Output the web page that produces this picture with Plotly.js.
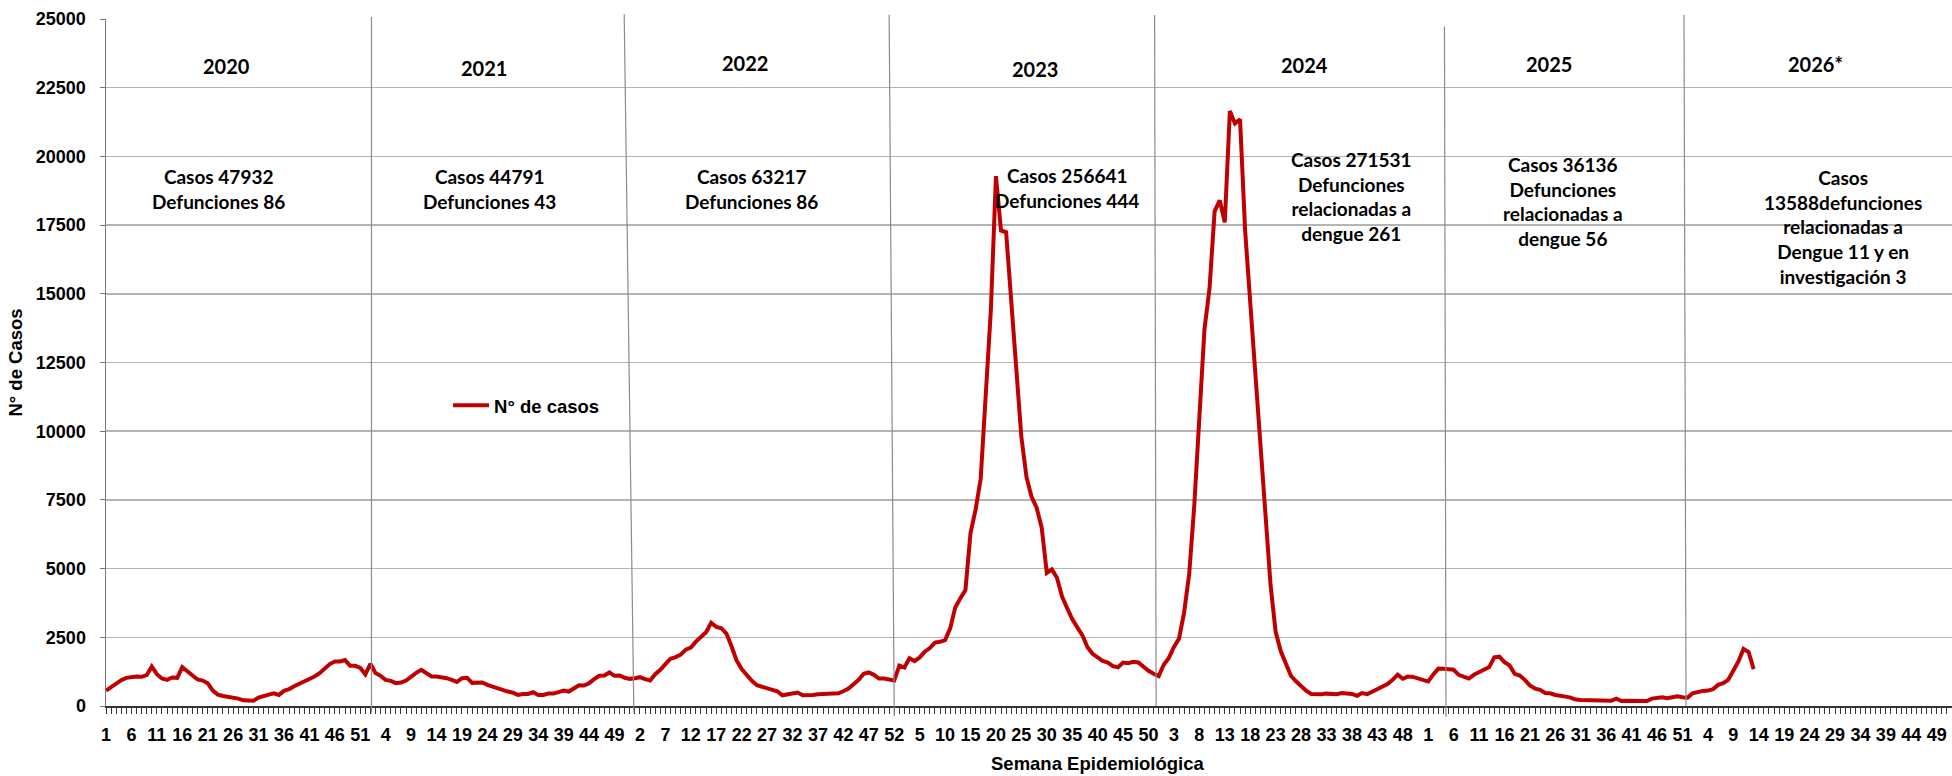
<!DOCTYPE html>
<html>
<head>
<meta charset="utf-8">
<script src="https://cdn.plot.ly/plotly-3.0.1.min.js"></script>
<style>
html, body { margin: 0; padding: 0; background: #ffffff; }
#chart { width: 1952px; height: 776px; }
</style>
</head>
<body>
<div id="chart"></div>
<script>
// ---- Data: weekly dengue cases (N° de casos), epidemiological weeks 2020-2026 ----
const years = ['2020', '2021', '2022', '2023', '2024', '2025', '2026*'];

const cases2020 = [561, 695, 830, 940, 1025, 1050, 1074, 1061, 1122, 1440, 1159, 1000, 952, 1037, 1025, 1415, 1257, 1110, 964, 927,
  830, 561, 415, 366, 342, 293, 268, 207, 183, 195, 305, 342, 415, 464, 403, 549, 610, 720, 805, 878,
  952, 1074, 1196, 1366, 1525, 1623, 1623, 1671, 1464, 1464, 1391, 1147];

const cases2021 = [1537, 1196, 1098, 952, 915, 830, 854, 927, 1074, 1208, 1318, 1183, 1074, 1074, 1049, 1013, 952, 878, 1013, 1025,
  842, 854, 854, 769, 708, 647, 549, 525, 488, 403, 439, 439, 500, 403, 403, 451, 451, 512, 561, 525,
  647, 756, 744, 830, 976, 1098, 1110, 1220, 1098, 1110, 1025, 988];

const cases2022 = [1013, 1049, 976, 927, 1159, 1318, 1525, 1720, 1781, 1867, 2050, 2123, 2342, 2525, 2684, 3026, 2879, 2830, 2635, 2172,
  1659, 1342, 1122, 915, 756, 708, 659, 598, 537, 390, 427, 476, 488, 390, 415, 403, 427, 439, 439, 427,
  464, 537, 634, 793, 952, 1171, 1220, 1135, 1000, 1000, 952, 927];

const cases2023 = [1470, 1400, 1741, 1636, 1767, 1979, 2110, 2308, 2335, 2400, 2823, 3588, 3917, 4221, 6292, 7149, 8270, 11634, 14403, 19284,
  17305, 17239, 14667, 12293, 9787, 8336, 7611, 7215, 6489, 4841, 4973, 4669, 3983, 3561, 3166, 2862, 2572, 2137, 1899, 1767,
  1636, 1583, 1451, 1411, 1583, 1556, 1609, 1583, 1411, 1279, 1174, 1090];

const cases2024 = [1500, 1750, 2150, 2450, 3400, 4800, 7300, 10400, 13700, 15200, 18000, 18400, 17600, 21650, 21200, 21350, 17300, 14700, 12000, 9300,
  6600, 4400, 2700, 2000, 1550, 1100, 900, 720, 560, 440, 420, 430, 450, 440, 430, 470, 460, 440, 370, 470,
  430, 520, 600, 680, 800, 950, 1140, 990, 1070, 1060, 1010, 950];

const cases2025 = [890, 1150, 1360, 1354, 1342, 1318, 1135, 1061, 1000, 1135, 1232, 1318, 1415, 1769, 1793, 1598, 1476, 1171, 1110, 952,
  744, 634, 586, 476, 464, 403, 390, 342, 305, 232, 220, 220, 220, 207, 207, 207, 195, 268, 183, 195,
  195, 195, 195, 183, 268, 281, 317, 281, 305, 354, 317, 305];

const cases2026 = [464, 525, 549, 561, 610, 769, 830, 952, 1257, 1623, 2074, 1964, 1342];

// Tick labels: epidemiological week shown every 5th week along the continuous axis
const xTickLabels = [
  1, 6, 11, 16, 21, 26, 31, 36, 41, 46, 51,
  4, 9, 14, 19, 24, 29, 34, 39, 44, 49,
  2, 7, 12, 17, 22, 27, 32, 37, 42, 47, 52,
  5, 10, 15, 20, 25, 30, 35, 40, 45, 50,
  3, 8, 13, 18, 23, 28, 33, 38, 43, 48,
  1, 6, 11, 16, 21, 26, 31, 36, 41, 46, 51,
  4, 9, 14, 19, 24, 29, 34, 39, 44, 49
];

const yearSummaries = [
  'Casos 47932<br>Defunciones 86',
  'Casos 44791<br>Defunciones 43',
  'Casos 63217<br>Defunciones 86',
  'Casos 256641<br>Defunciones 444',
  'Casos 271531<br>Defunciones<br>relacionadas a<br>dengue 261',
  'Casos 36136<br>Defunciones<br>relacionadas a<br>dengue 56',
  'Casos<br>13588defunciones<br>relacionadas a<br>Dengue 11 y en<br>investigación 3'
];

const seriesName = 'N° de casos';
const xTitle = 'Semana Epidemiológica';
const yTitle = 'N° de Casos';

// ---- Build series ----
const allCases = [].concat(cases2020, cases2021, cases2022, cases2023, cases2024, cases2025, cases2026);
const xIdx = allCases.map((_, i) => i + 1);
const tickVals = xTickLabels.map((_, i) => 1 + 5 * i);

// ---- Layout helpers (positions only) ----
const yearLabelPos = [[24.6, 23280], [75.3, 23210], [126.7, 23390], [183.7, 23170], [236.6, 23320], [284.8, 23350], [337.1, 23350]];
const summaryPos = [[23.2, 18807], [76.5, 18825], [128.0, 18825], [189.9, 18843], [245.9, 18527], [287.5, 18345], [342.6, 17436]];
const separators = [
  [53.2, 53.2, -0.010, 1.003],
  [104.8, 102.9, -0.010, 1.007],
  [156.0, 155.0, -0.015, 1.006],
  [207.5, 207.2, 0.0, 1.006],
  [264.5, 264.2, -0.016, 0.989],
  [311.7, 311.3, 0.0, 1.006]
];

const labelFont = { family: 'Lato, "Open Sans", sans-serif', size: 19, color: '#000000', weight: 'bold' };
const arialBold = { family: 'Arial, "Liberation Sans", sans-serif', size: 18, color: '#000000', weight: 'bold' };

const annotations = [];
years.forEach((yr, i) => {
  annotations.push({
    x: yearLabelPos[i][0], y: yearLabelPos[i][1], xref: 'x', yref: 'y',
    text: yr, showarrow: false, xanchor: 'center', yanchor: 'middle',
    font: Object.assign({}, labelFont, { size: 20 })
  });
  annotations.push({
    x: summaryPos[i][0], y: summaryPos[i][1], xref: 'x', yref: 'y',
    text: yearSummaries[i], showarrow: false, xanchor: 'center', yanchor: 'middle',
    align: 'center', font: labelFont
  });
});
annotations.push({
  x: (1097.5 - 106) / 1846, y: -(763 - 706) / 687, xref: 'paper', yref: 'paper',
  text: xTitle, showarrow: false, xanchor: 'center', yanchor: 'middle',
  font: Object.assign({}, arialBold, { size: 18.5 })
});

const shapes = separators.map(s => ({
  type: 'line', xref: 'x', yref: 'paper',
  x0: s[0], x1: s[1], y0: s[2], y1: s[3],
  line: { color: '#8c8c8c', width: 1.2 }
}));

const trace = {
  type: 'scatter', mode: 'lines', name: seriesName,
  x: xIdx, y: allCases,
  line: { color: '#C00000', width: 4 },
  hoverinfo: 'x+y'
};

const layout = {
  width: 1952, height: 776,
  margin: { l: 106, r: 0, t: 19, b: 70, pad: 0 },
  paper_bgcolor: '#ffffff', plot_bgcolor: '#ffffff',
  showlegend: true,
  legend: {
    x: 0.1853, y: 0.437, xanchor: 'left', yanchor: 'middle',
    bgcolor: 'rgba(0,0,0,0)', borderwidth: 0,
    font: Object.assign({}, arialBold, { size: 18.5 }),
    itemwidth: 36
  },
  xaxis: {
    type: 'linear', range: [1, 364], autorange: false,
    tickmode: 'array', tickvals: tickVals, ticktext: xTickLabels.map(String),
    ticks: 'outside', ticklen: 6, tickwidth: 1, tickcolor: '#333333',
    minor: { tickmode: 'linear', tick0: 1, dtick: 1, ticks: 'outside', ticklen: 6, tickwidth: 1, tickcolor: '#333333', showgrid: false },
    showgrid: false, zeroline: false,
    showline: true, linecolor: '#333333', linewidth: 1.5,
    tickfont: arialBold, tickangle: 0, ticklabelstandoff: 6
  },
  yaxis: {
    range: [0, 25000], autorange: false, dtick: 2500, tick0: 0,
    tickformat: 'd',
    showgrid: true, gridcolor: '#b4b4b4', gridwidth: 1.5,
    zeroline: false,
    showline: true, linecolor: '#777777', linewidth: 1.5,
    ticks: 'outside', ticklen: 5, tickcolor: '#777777',
    tickfont: arialBold, ticklabelstandoff: 10,
    title: { text: yTitle, font: Object.assign({}, arialBold, { size: 18.5 }), standoff: 8 }
  },
  annotations: annotations,
  shapes: shapes
};

Plotly.newPlot('chart', [trace], layout, { displayModeBar: false, staticPlot: true });
</script>
</body>
</html>
